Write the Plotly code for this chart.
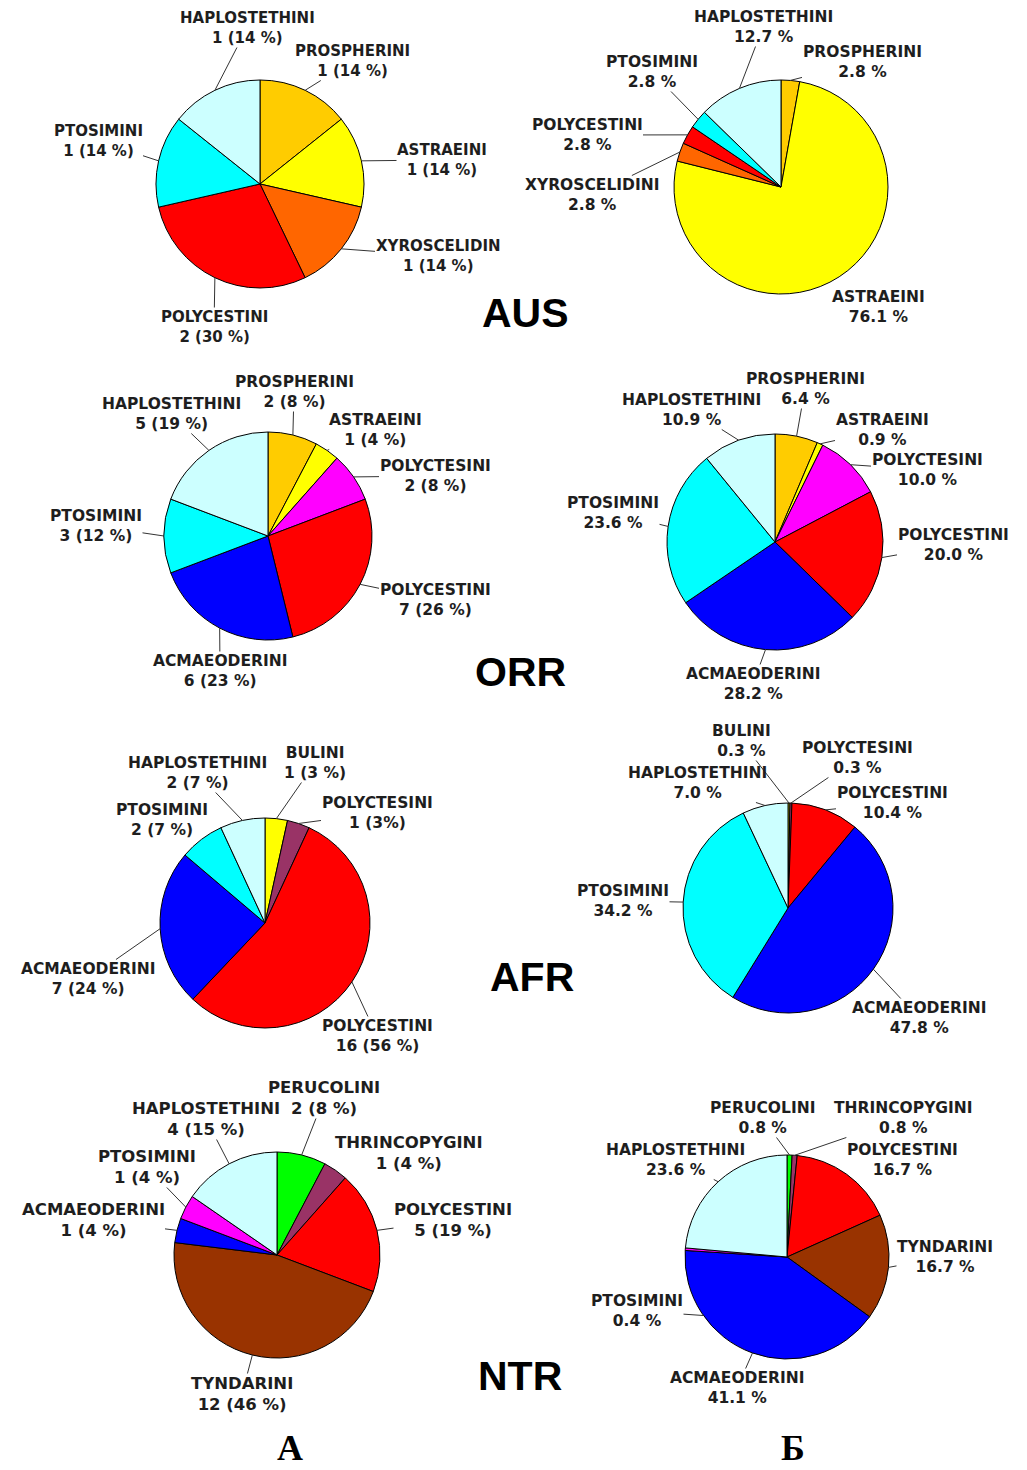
import math
import plotly.graph_objects as go

W, H = 1027, 1470

# ---------------- DATA ----------------
# Column A: number of genera (label text as printed)
aus_a_names = ["PROSPHERINI", "ASTRAEINI", "XYROSCELIDIN", "POLYCESTINI", "PTOSIMINI", "HAPLOSTETHINI"]
aus_a_values = [1, 1, 1, 2, 1, 1]
aus_a_text = ["1 (14 %)", "1 (14 %)", "1 (14 %)", "2 (30 %)", "1 (14 %)", "1 (14 %)"]

aus_b_names = ["PROSPHERINI", "ASTRAEINI", "XYROSCELIDINI", "POLYCESTINI", "PTOSIMINI", "HAPLOSTETHINI"]
aus_b_values = [2.8, 76.1, 2.8, 2.8, 2.8, 12.7]

orr_a_names = ["PROSPHERINI", "ASTRAEINI", "POLYCTESINI", "POLYCESTINI", "ACMAEODERINI", "PTOSIMINI", "HAPLOSTETHINI"]
orr_a_values = [2, 1, 2, 7, 6, 3, 5]
orr_a_text = ["2 (8 %)", "1 (4 %)", "2 (8 %)", "7 (26 %)", "6 (23 %)", "3 (12 %)", "5 (19 %)"]

orr_b_names = ["PROSPHERINI", "ASTRAEINI", "POLYCTESINI", "POLYCESTINI", "ACMAEODERINI", "PTOSIMINI", "HAPLOSTETHINI"]
orr_b_values = [6.4, 0.9, 10.0, 20.0, 28.2, 23.6, 10.9]

afr_a_names = ["BULINI", "POLYCTESINI", "POLYCESTINI", "ACMAEODERINI", "PTOSIMINI", "HAPLOSTETHINI"]
afr_a_values = [1, 1, 16, 7, 2, 2]
afr_a_text = ["1 (3 %)", "1 (3%)", "16 (56 %)", "7 (24 %)", "2 (7 %)", "2 (7 %)"]

afr_b_names = ["BULINI", "POLYCTESINI", "POLYCESTINI", "ACMAEODERINI", "PTOSIMINI", "HAPLOSTETHINI"]
afr_b_values = [0.3, 0.3, 10.4, 47.8, 34.2, 7.0]

ntr_a_names = ["PERUCOLINI", "THRINCOPYGINI", "POLYCESTINI", "TYNDARINI", "ACMAEODERINI", "PTOSIMINI", "HAPLOSTETHINI"]
ntr_a_values = [2, 1, 5, 12, 1, 1, 4]
ntr_a_text = ["2 (8 %)", "1 (4 %)", "5 (19 %)", "12 (46 %)", "1 (4 %)", "1 (4 %)", "4 (15 %)"]

ntr_b_names = ["PERUCOLINI", "THRINCOPYGINI", "POLYCESTINI", "TYNDARINI", "ACMAEODERINI", "PTOSIMINI", "HAPLOSTETHINI"]
ntr_b_values = [0.8, 0.8, 16.7, 16.7, 41.1, 0.4, 23.6]

regions = ["AUS", "ORR", "AFR", "NTR"]
column_titles = ["А", "Б"]

# ---------------- STYLE / LAYOUT ----------------
GOLD, YEL, ORA, RED = "#FFCC00", "#FFFF00", "#FF6600", "#FF0000"
CYAN, LCYAN, MAG, BLUE = "#00FFFF", "#CCFFFF", "#FF00FF", "#0000FF"
PURP, GREEN, BROWN = "#993366", "#00FF00", "#993300"

pies = [
    dict(names=aus_a_names, values=aus_a_values, texts=aus_a_text,
         colors=[GOLD, YEL, ORA, RED, CYAN, LCYAN], geo=(260, 184, 104),
         lab=[(352, 61), (442, 160), (438, 256), (214, 327), (98, 141), (247, 28)], fs=15),
    dict(names=aus_b_names, values=aus_b_values, texts=None,
         colors=[GOLD, YEL, ORA, RED, CYAN, LCYAN], geo=(781, 187, 107),
         lab=[(862, 62), (878, 307), (592, 195), (587, 135), (652, 72), (763, 27)], fs=15.5,
         noarrow=[1]),
    dict(names=orr_a_names, values=orr_a_values, texts=orr_a_text,
         colors=[GOLD, YEL, MAG, RED, BLUE, CYAN, LCYAN], geo=(268, 536, 104),
         lab=[(294, 392), (375, 430), (435, 476), (435, 600), (220, 671), (96, 526), (171, 414)], fs=15.5),
    dict(names=orr_b_names, values=orr_b_values, texts=None,
         colors=[GOLD, YEL, MAG, RED, BLUE, CYAN, LCYAN], geo=(775, 542, 108),
         lab=[(805, 389), (882, 430), (927, 470), (953, 545), (753, 684), (613, 513), (691, 410)], fs=15.5),
    dict(names=afr_a_names, values=afr_a_values, texts=afr_a_text,
         colors=[YEL, PURP, RED, BLUE, CYAN, LCYAN], geo=(265, 923, 105),
         lab=[(315, 763), (377, 813), (377, 1036), (88, 979), (162, 820), (197, 773)], fs=15.5),
    dict(names=afr_b_names, values=afr_b_values, texts=None,
         colors=[YEL, PURP, RED, BLUE, CYAN, LCYAN], geo=(788, 908, 105),
         lab=[(741, 741), (857, 758), (892, 803), (919, 1018), (623, 901), (697, 783)], fs=15.5),
    dict(names=ntr_a_names, values=ntr_a_values, texts=ntr_a_text,
         colors=[GREEN, PURP, RED, BROWN, BLUE, MAG, LCYAN], geo=(277, 1255, 103),
         lab=[(324, 1098), (409, 1153), (453, 1220), (242, 1394), (93, 1220), (147, 1167), (206, 1119)], fs=16.5),
    dict(names=ntr_b_names, values=ntr_b_values, texts=None,
         colors=[GREEN, PURP, RED, BROWN, BLUE, MAG, LCYAN], geo=(787, 1257, 102),
         lab=[(762, 1118), (903, 1118), (902, 1160), (945, 1257), (737, 1388), (637, 1311), (675, 1160)], fs=15.5,
         head_deg={5: 235}),
]
region_pos = [(525, 313), (520, 672), (532, 977), (520, 1376)]
column_pos = [(290, 1448), (793, 1448)]

LABEL_FONT = "DejaVu Sans"
TEXT_COL = "#1e1e1e"


def px(x):
    return x / W


def py(y):
    return 1 - y / H


fig = go.Figure()
annotations = []

for p in pies:
    cx, cy, r = p["geo"]
    vals = p["values"]
    fig.add_trace(go.Pie(
        labels=p["names"], values=vals, sort=False, direction="clockwise", rotation=0,
        marker=dict(colors=p["colors"], line=dict(color="#000000", width=1)),
        textinfo="none", hoverinfo="label+value", showlegend=False,
        domain=dict(x=[px(cx - r), px(cx + r)], y=[py(cy + r), py(cy - r)]),
    ))
    tot = sum(vals)
    cum = 0.0
    for i, (name, v) in enumerate(zip(p["names"], vals)):
        mid = (cum + v / 2) / tot * 2 * math.pi
        cum += v
        if i in p.get("head_deg", {}):
            mid = math.radians(p["head_deg"][i])
        hx = cx + r * math.sin(mid)
        hy = cy - r * math.cos(mid)
        vt = p["texts"][i] if p["texts"] else f"{v:.1f} %"
        tx, ty = p["lab"][i]
        txt = f"{name}<br>{vt}"
        font = dict(family=LABEL_FONT, size=p["fs"], color=TEXT_COL, weight="bold")
        if i in p.get("noarrow", []):
            annotations.append(dict(x=px(tx), y=py(ty), xref="paper", yref="paper", text=txt,
                                    showarrow=False, font=font, align="center",
                                    xanchor="center", yanchor="middle"))
        else:
            annotations.append(dict(x=px(hx), y=py(hy), xref="paper", yref="paper", text=txt,
                                    showarrow=True, ax=tx - hx, ay=ty - hy,
                                    arrowhead=0, arrowwidth=1, arrowcolor="#333333",
                                    standoff=0, startstandoff=0, borderpad=0,
                                    font=font, align="center"))

for name, (x, y) in zip(regions, region_pos):
    annotations.append(dict(x=px(x), y=py(y), xref="paper", yref="paper", text=name, showarrow=False,
                            font=dict(family="Liberation Sans", size=41, color="#000000", weight="bold"),
                            xanchor="center", yanchor="middle"))

for name, (x, y) in zip(column_titles, column_pos):
    annotations.append(dict(x=px(x), y=py(y), xref="paper", yref="paper", text=name, showarrow=False,
                            font=dict(family="Liberation Serif", size=36, color="#000000", weight="bold"),
                            xanchor="center", yanchor="middle"))

fig.update_layout(
    width=W, height=H, margin=dict(l=0, r=0, t=0, b=0),
    paper_bgcolor="#FFFFFF", plot_bgcolor="#FFFFFF",
    annotations=annotations, showlegend=False,
)

fig.write_html("out.html")
